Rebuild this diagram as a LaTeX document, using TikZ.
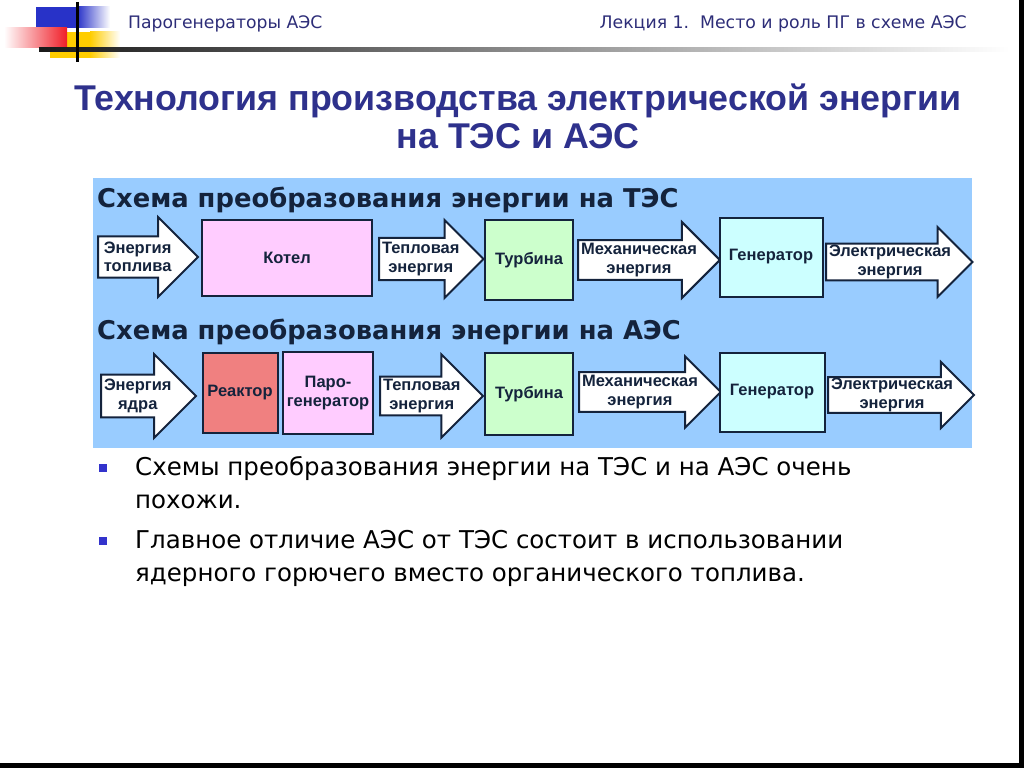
\documentclass[tikz,border=0pt]{standalone}
\usepackage{fontspec}
\setmainfont{Liberation Sans}
\newfontfamily\tahoma{DejaVu Sans}
\usetikzlibrary{shapes.arrows,positioning}

\definecolor{hdrblue}{RGB}{45,45,120}
\definecolor{titleblue}{RGB}{46,49,140}
\definecolor{panelblue}{RGB}{153,204,255}
\definecolor{boxline}{RGB}{20,35,60}
\definecolor{boilerpink}{RGB}{255,204,255}
\definecolor{turbgreen}{RGB}{204,255,204}
\definecolor{gencyan}{RGB}{204,255,255}
\definecolor{reactred}{RGB}{240,128,128}
\definecolor{bulletblue}{RGB}{51,51,204}
\definecolor{logoblue}{RGB}{40,50,200}
\definecolor{logored}{RGB}{240,30,40}
\definecolor{logoyellow}{RGB}{255,205,0}

\begin{document}
\begin{tikzpicture}[x=1pt, y=-1pt,
    box/.style={draw=boxline, line width=2pt, inner sep=0pt, align=center,
        font=\bfseries\fontsize{16.5}{18.5}\selectfont, text=boxline},
    flow/.style={single arrow, draw=boxline, fill=white, line width=2pt, anchor=tail,
        inner xsep=2pt, inner ysep=0pt, align=center,
        font=\bfseries\fontsize{16.5}{18.5}\selectfont, text=boxline},
    heading/.style={anchor=base west, inner sep=0pt, font=\tahoma\bfseries\fontsize{25.8}{30}\selectfont, text=boxline},
    bullettext/.style={anchor=base west, inner sep=0pt, align=left, font=\tahoma\fontsize{24.5}{33}\selectfont}]
    \useasboundingbox (0,0) rectangle (1024,768);
    \fill[white] (0,0) rectangle (1024,768);

    % Logo and header line
    \fill[logoblue] (36,7) rectangle (77,28);
    \shade[left color=logoblue, right color=white] (77,7) rectangle (110,28);
    \fill[logoyellow] (50,32) rectangle (90,58);
    \shade[left color=logoyellow, right color=white] (90,32) rectangle (120,58);
    \shade[left color=white, right color=logored] (4,28) rectangle (67,48);
    \shade[left color=black!90, middle color=gray!70, right color=white] (39,48) rectangle (1010,52);
    \draw[line width=3pt] (77,2) -- (77,62);

    \node[anchor=base west, inner sep=0pt, font=\tahoma\fontsize{17.2}{20}\selectfont, text=hdrblue] (course) at (128,29) {Парогенераторы АЭС};
    \node[anchor=base east, inner sep=0pt, font=\tahoma\fontsize{17.3}{20}\selectfont, text=hdrblue] (lecture) at (967,29) {Лекция 1.\ \ Место и роль ПГ в схеме АЭС};

    % Title
    \node[anchor=base, font=\bfseries\fontsize{35.8}{40}\selectfont, text=titleblue] (title1) at (518,110) {Технология производства электрической энергии};
    \node[anchor=base, font=\bfseries\fontsize{35.8}{40}\selectfont, text=titleblue] (title2) at (518,148) {на ТЭС и АЭС};

    % Panel
    \fill[panelblue] (93,178) rectangle (972,448);

    % ТЭС
    \node[heading] (headTES) at (97,207) {Схема преобразования энергии на ТЭС};
    \node[flow, minimum height=100pt, minimum width=80pt, single arrow head extend=15pt] (fuel) at (97,257) {Энергия\\топлива};
    \node[box, fill=boilerpink, minimum width=170pt, minimum height=76pt] (boiler) at (287,258) {Котел};
    \node[flow, minimum height=100pt, minimum width=78pt, single arrow head extend=15pt] (heat1) at (378,259) {Тепловая\\энергия};
    \node[box, fill=turbgreen, minimum width=88pt, minimum height=80pt] (turb1) at (529,260) {Турбина};
    \node[flow, minimum height=141pt, minimum width=76pt, single arrow head extend=16pt] (mech1) at (577,260) {Механическая\\энергия};
    \node[box, fill=gencyan, minimum width=103pt, minimum height=79pt] (gen1) at (771,257) {Генератор};
    \node[flow, minimum height=140pt, minimum width=70pt, single arrow head extend=16pt] (elec1) at (825,262) {Электрическая\\энергия};

    % АЭС
    \node[heading] (headAES) at (97,339) {Схема преобразования энергии на АЭС};
    \node[flow, minimum height=92pt, minimum width=84pt, single arrow head extend=17pt] (core) at (100,396) {Энергия\\ядра};
    \node[box, fill=reactred, minimum width=75pt, minimum height=80pt] (reactor) at (240,393) {Реактор};
    \node[box, fill=boilerpink, minimum width=90pt, minimum height=82pt] (sg) at (328,393) {Паро-\\генератор};
    \node[flow, minimum height=101pt, minimum width=83pt, single arrow head extend=20pt] (heat2) at (379,396) {Тепловая\\энергия};
    \node[box, fill=turbgreen, minimum width=88pt, minimum height=82pt] (turb2) at (529,394) {Турбина};
    \node[flow, minimum height=139pt, minimum width=71pt, single arrow head extend=14pt] (mech2) at (578,392) {Механическая\\энергия};
    \node[box, fill=gencyan, minimum width=105pt, minimum height=79pt] (gen2) at (772,392) {Генератор};
    \node[flow, minimum height=139pt, minimum width=66pt, single arrow head extend=15pt] (elec2) at (827,395) {Электрическая\\энергия};

    % Bullets
    \node[fill=bulletblue, minimum size=8pt, inner sep=0pt] (dot1) at (103,468) {};
    \node[bullettext] (item1) at (135,508) {Схемы преобразования энергии на ТЭС и на АЭС очень\\похожи.};
    \node[fill=bulletblue, minimum size=8pt, inner sep=0pt] (dot2) at (103,541) {};
    \node[bullettext] (item2) at (135,581) {Главное отличие АЭС от ТЭС состоит в использовании\\ядерного горючего вместо органического топлива.};

    % Frame edges
    \fill[black] (1019,0) rectangle (1024,768);
    \fill[black] (0,763) rectangle (1024,768);
\end{tikzpicture}
\end{document}
